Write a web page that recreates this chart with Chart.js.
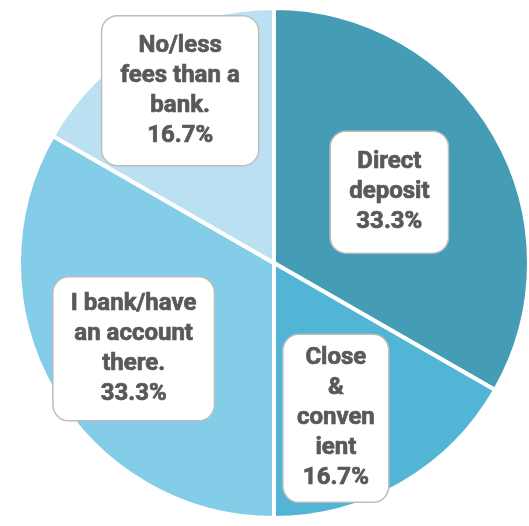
<!DOCTYPE html>
<html>
<head>
<meta charset="utf-8">
<script src="https://cdn.jsdelivr.net/npm/chart.js@4"></script>
<style>
  html, body { margin: 0; padding: 0; background: #fff; overflow: hidden; }
  #wrap { position: relative; width: 548px; height: 526px; }
</style>
</head>
<body>
<div id="wrap"><canvas id="pie"></canvas></div>
<script>
// slices, clockwise from 12 o'clock
const categories = ["Direct deposit", "Close & convenient", "I bank/have an account there.", "No/less fees than a bank."];
const labelLines = [
    ["Direct", "deposit"],
    ["Close", "&", "conven", "ient"],
    ["I bank/have", "an account", "there."],
    ["No/less", "fees than a", "bank."]
];
const values = [33.3, 16.7, 33.3, 16.7];
const colors = ['#459cb5', '#52b5d6', '#84cde8', '#bae0f1'];

// callout box placement (offset from the slice's middle point) and inner padding
const boxStyle = [
    {dx: 5, dy: -7, padX: 19, padY: 16},
    {dx: -2, dy: 45, padX: 14, padY: 9},
    {dx: -30, dy: 22, padX: 18, padY: 12},
    {dx: -30, dy: -62, padX: 19, padY: 15}
];

const calloutPlugin = {
    id: 'callouts',
    afterDatasetsDraw(chart) {
        const ctx = chart.ctx;
        const arcs = chart.getDatasetMeta(0).data;
        const lineH = 30;
        ctx.save();
        ctx.font = 'bold 24px Roboto, "Liberation Sans", sans-serif';
        ctx.textAlign = 'center';
        ctx.textBaseline = 'middle';
        arcs.forEach((arc, i) => {
            const s = boxStyle[i];
            const pos = arc.tooltipPosition();
            const cx = pos.x + s.dx;
            const cy = pos.y + s.dy;
            const lines = labelLines[i].concat([values[i].toFixed(1) + '%']);
            let w = 0;
            lines.forEach(l => { w = Math.max(w, ctx.measureText(l).width); });
            const bw = w + s.padX * 2;
            const bh = lines.length * lineH + s.padY * 2;
            ctx.beginPath();
            ctx.roundRect(cx - bw / 2, cy - bh / 2, bw, bh, 16);
            ctx.fillStyle = '#ffffff';
            ctx.fill();
            ctx.lineWidth = 1.5;
            ctx.strokeStyle = '#bdbdbd';
            ctx.stroke();
            ctx.fillStyle = '#595959';
            ctx.strokeStyle = '#595959';
            ctx.lineWidth = 0.7;
            lines.forEach((l, k) => {
                const y = cy - (lines.length - 1) * lineH / 2 + k * lineH;
                ctx.fillText(l, cx, y);
                ctx.strokeText(l, cx, y);
            });
        });
        ctx.restore();
    }
};

new Chart(document.getElementById('pie'), {
    type: 'pie',
    data: {
        labels: categories,
        datasets: [{
            data: values,
            backgroundColor: colors,
            borderColor: '#ffffff',
            borderWidth: 4
        }]
    },
    options: {
        responsive: true,
        maintainAspectRatio: false,
        animation: false,
        layout: { padding: 6 },
        plugins: {
            legend: { display: false },
            tooltip: { enabled: false }
        }
    },
    plugins: [calloutPlugin]
});
</script>
</body>
</html>
